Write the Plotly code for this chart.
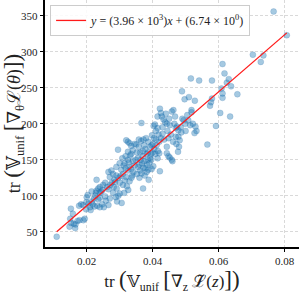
import plotly.graph_objects as go

pts = [
    (0.0109, 43), (0.0152, 82), (0.0158, 75), (0.0150, 68), (0.0148, 57), (0.0153, 62), (0.0166, 60), (0.0172, 65),
    (0.0165, 55), (0.0178, 66), (0.0183, 88), (0.0189, 87), (0.0177, 86), (0.0190, 66), (0.0194, 68), (0.0161, 61),
    (0.0200, 98), (0.0203, 101), (0.0199, 91), (0.0206, 89), (0.0216, 92), (0.0198, 81), (0.0212, 80), (0.0224, 85),
    (0.0230, 107), (0.0235, 110), (0.0240, 112), (0.0244, 106), (0.0230, 122), (0.0222, 96), (0.0232, 86), (0.0240, 84),
    (0.0247, 88), (0.0252, 84), (0.0240, 97), (0.0256, 99), (0.0262, 112), (0.0266, 109), (0.0256, 118), (0.0228, 104),
    (0.0240, 104), (0.0215, 106), (0.0210, 84), (0.0218, 88), (0.0226, 100), (0.0250, 115), (0.0258, 93), (0.0248, 108),
    (0.0235, 95),
    (0.0266, 133), (0.0270, 126), (0.0280, 130), (0.0275, 135), (0.0286, 119), (0.0291, 110), (0.0266, 87), (0.0270, 96),
    (0.0280, 104), (0.0290, 140), (0.0295, 164), (0.0300, 145), (0.0305, 136), (0.0296, 100), (0.0300, 103), (0.0288, 98),
    (0.0292, 92), (0.0306, 90), (0.0310, 130), (0.0316, 121), (0.0320, 126), (0.0325, 135), (0.0320, 177), (0.0325, 175),
    (0.0330, 173), (0.0335, 169), (0.0315, 145), (0.0325, 150), (0.0330, 140), (0.0335, 137), (0.0340, 163), (0.0335, 158),
    (0.0325, 161), (0.0312, 142), (0.0318, 155), (0.0302, 127), (0.0296, 125), (0.0284, 122), (0.0276, 118), (0.0310, 115),
    (0.0322, 113), (0.0330, 120), (0.0338, 128), (0.0345, 142), (0.0340, 148), (0.0318, 138), (0.0328, 146), (0.0332, 156),
    (0.0308, 152), (0.0300, 118), (0.0290, 128), (0.0272, 115), (0.0282, 112), (0.0314, 104), (0.0326, 108), (0.0336, 125),
    (0.0342, 133),
    (0.0350, 171), (0.0355, 152), (0.0360, 143), (0.0362, 160), (0.0366, 131), (0.0366, 201), (0.0371, 110), (0.0372, 139),
    (0.0382, 133), (0.0387, 136), (0.0387, 175), (0.0392, 168), (0.0397, 170), (0.0401, 172), (0.0397, 137), (0.0402, 141),
    (0.0403, 197), (0.0407, 199), (0.0415, 194), (0.0410, 190), (0.0415, 210), (0.0422, 221), (0.0425, 215), (0.0420, 159),
    (0.0415, 152), (0.0422, 134), (0.0352, 160), (0.0358, 168), (0.0365, 176), (0.0370, 155), (0.0375, 148), (0.0378, 165),
    (0.0382, 158), (0.0385, 150), (0.0390, 145), (0.0395, 158), (0.0400, 160), (0.0405, 165), (0.0410, 178), (0.0412, 170),
    (0.0348, 150), (0.0356, 140), (0.0362, 135), (0.0368, 145), (0.0374, 170), (0.0380, 180), (0.0386, 160), (0.0392, 152),
    (0.0398, 184), (0.0404, 180), (0.0408, 158), (0.0418, 185), (0.0360, 125), (0.0376, 128), (0.0388, 122), (0.0352, 130),
    (0.0370, 162), (0.0383, 143), (0.0396, 150), (0.0416, 162), (0.0420, 175), (0.0345, 172), (0.0358, 178), (0.0364, 150),
    (0.0372, 178), (0.0378, 138),
    (0.0428, 210), (0.0433, 206), (0.0438, 202), (0.0443, 200), (0.0430, 186), (0.0435, 178), (0.0443, 168), (0.0443, 159),
    (0.0448, 155), (0.0452, 153), (0.0458, 150), (0.0463, 219), (0.0458, 217), (0.0466, 200), (0.0470, 194), (0.0474, 196),
    (0.0478, 182), (0.0482, 177), (0.0472, 172), (0.0480, 168), (0.0477, 161), (0.0490, 207), (0.0494, 205), (0.0499, 200),
    (0.0489, 245), (0.0478, 191), (0.0460, 148), (0.0430, 195), (0.0445, 190), (0.0450, 207), (0.0455, 185), (0.0462, 175),
    (0.0468, 210), (0.0485, 195), (0.0440, 214), (0.0452, 198), (0.0470, 182), (0.0425, 180), (0.0448, 180), (0.0487, 188),
    (0.0497, 234), (0.0510, 237), (0.0516, 263), (0.0528, 232), (0.0518, 219), (0.0518, 216), (0.0508, 205), (0.0514, 198),
    (0.0530, 196), (0.0533, 190), (0.0527, 187), (0.0541, 260), (0.0566, 171), (0.0580, 260), (0.0574, 225), (0.0577, 230),
    (0.0580, 235), (0.0592, 197), (0.0505, 212), (0.0522, 200), (0.0500, 190),
    (0.0605, 215), (0.0609, 249), (0.0612, 242), (0.0612, 236), (0.0612, 283), (0.0618, 270), (0.0625, 257), (0.0631, 262),
    (0.0638, 252), (0.0635, 210), (0.0657, 241), (0.0704, 296), (0.0728, 286), (0.0736, 295), (0.0767, 356), (0.0807, 323),
]
x_vals = [p[0] for p in pts]
y_vals = [p[1] for p in pts]

slope = 3.96e3
intercept = 6.74
x_ticks = [0.02, 0.04, 0.06, 0.08]
y_ticks = [50, 100, 150, 200, 250, 300, 350]

fit_x = [min(x_vals), max(x_vals)]
fit_y = [slope * v + intercept for v in fit_x]

serif = "Liberation Serif, DejaVu Serif, serif"


def big(s, px):
    return f"<span style='font-size:{px}px'>{s}</span>"


fig = go.Figure()
fig.add_trace(go.Scatter(
    x=x_vals, y=y_vals, mode="markers", showlegend=False,
    marker=dict(size=6, color="rgba(31,119,180,0.40)",
                line=dict(width=0.5, color="rgba(31,100,160,0.35)")),
))
fig.add_trace(go.Scatter(
    x=fit_x, y=fit_y, mode="lines",
    line=dict(color="#ff1a1a", width=1.3),
    name="<i>y</i> = (3.96 × 10<sup>3</sup>)<i>x</i> + (6.74 × 10<sup>0</sup>)",
))

axis_common = dict(
    showline=True, linecolor="black", linewidth=1.5, mirror=False,
    ticks="outside", ticklen=3.5, tickwidth=1, tickcolor="black",
    showgrid=True, gridcolor="#d9d9d9", griddash="3px,2px", gridwidth=0.6,
    zeroline=False, tickfont=dict(family=serif, size=11, color="#222"),
    automargin=False,
)

x_title = ("tr " + big("(", 23) + "𝕍<sub>unif</sub> " + big("[", 23) + "∇<sub>z</sub> ℒ̃(<i>z</i>)"
           + big("]", 23) + big(")", 23))
y_title = ("tr " + big("(", 23) + "𝕍<sub>unif</sub> " + big("[", 23) + "∇<sub>θ</sub>ℒ(<i>θ</i>)"
           + big("]", 23) + big(")", 23))

fig.update_layout(
    width=299, height=299,
    margin=dict(l=45, r=0, t=0, b=52),
    paper_bgcolor="white", plot_bgcolor="white",
    font=dict(family=serif, color="#222"),
    xaxis=dict(range=[0.00735, 0.0844], tickvals=x_ticks,
               ticktext=[f"{v:.2f}" for v in x_ticks],
               title=dict(text=x_title, font=dict(family=serif, size=17), standoff=6),
               **axis_common),
    yaxis=dict(range=[28.7, 372], tickvals=y_ticks,
               title=dict(text=y_title, font=dict(family=serif, size=18), standoff=2),
               **axis_common),
    legend=dict(x=0.02, y=0.98, xanchor="left", yanchor="top",
                orientation="h", entrywidth=153, entrywidthmode="pixels",
                bgcolor="rgba(255,255,255,0.85)", bordercolor="#cccccc", borderwidth=1,
                font=dict(family=serif, size=12, color="#222"), itemwidth=30,
                tracegroupgap=0),
)

fig.write_html("out.html", config={"displayModeBar": False},
               post_script="document.body.style.margin='0';document.body.style.padding='0';")
